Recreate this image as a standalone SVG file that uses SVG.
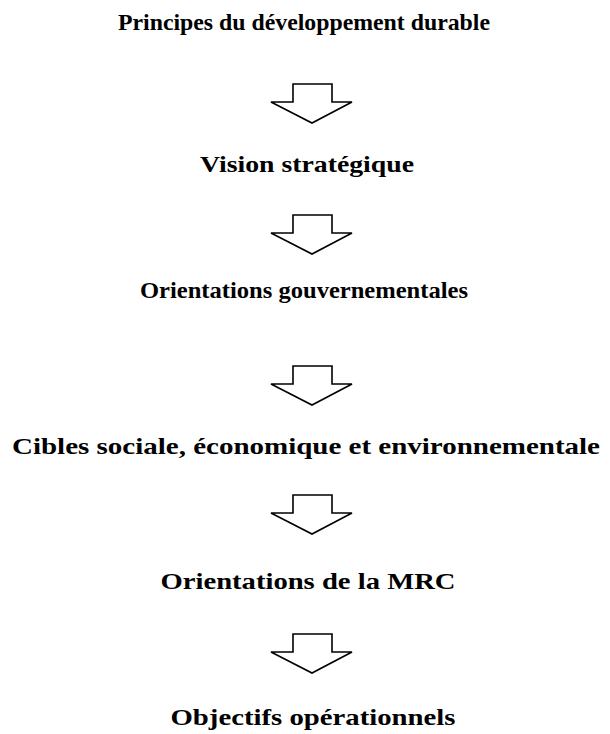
<svg xmlns="http://www.w3.org/2000/svg" width="610" height="734" viewBox="0 0 610 734">
<style>
.t{font-family:"Liberation Serif","DejaVu Serif",serif;font-weight:bold;font-size:24px;fill:#000;text-anchor:middle}
.a{fill:#fff;stroke:#000;stroke-width:1.6;stroke-linejoin:miter}
</style>
<defs>
<path id="arr" class="a" d="M293,0 H332 V18 H352 L312,39 L271,18 H293 Z"/>
</defs>
<rect width="610" height="734" fill="#fff"/>
<g id="n1"><text class="t" x="304" y="30" textLength="372" lengthAdjust="spacingAndGlyphs">Principes du développement durable</text></g>
<g id="n2"><text class="t" x="307" y="172" textLength="214" lengthAdjust="spacingAndGlyphs">Vision stratégique</text></g>
<g id="n3"><text class="t" x="304" y="298" textLength="328" lengthAdjust="spacingAndGlyphs">Orientations gouvernementales</text></g>
<g id="n4"><text class="t" x="306" y="454" textLength="588" lengthAdjust="spacingAndGlyphs">Cibles sociale, économique et environnementale</text></g>
<g id="n5"><text class="t" x="308" y="589" textLength="295" lengthAdjust="spacingAndGlyphs">Orientations de la MRC</text></g>
<g id="n6"><text class="t" x="313" y="725" textLength="285" lengthAdjust="spacingAndGlyphs">Objectifs opérationnels</text></g>
<g id="connectors">
<use href="#arr" y="84"/>
<use href="#arr" y="215"/>
<use href="#arr" y="366"/>
<use href="#arr" y="495"/>
<use href="#arr" y="634"/>
</g>
</svg>
